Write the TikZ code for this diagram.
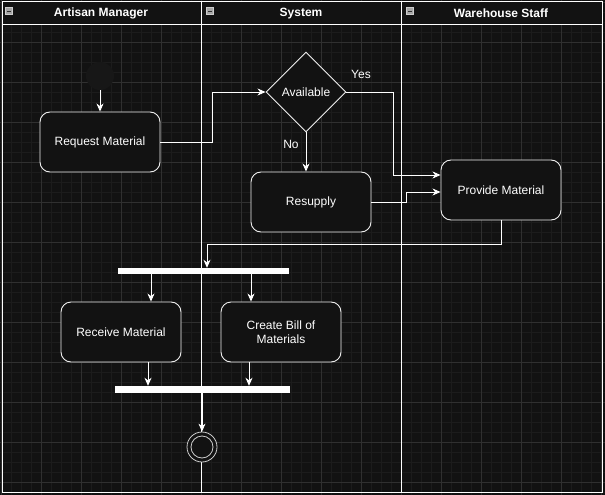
\documentclass[tikz,border=0pt]{standalone}
\usepackage{fontspec}
\setmainfont{Liberation Sans}
\usetikzlibrary{arrows.meta,shapes.geometric,positioning,calc}
\definecolor{bg}{HTML}{121212}
\definecolor{gridminor}{HTML}{1C1C1C}
\definecolor{gridmajor}{HTML}{303030}
\definecolor{strokec}{HTML}{F0F0F0}
\definecolor{initc}{HTML}{171717}
\tikzset{
  act/.style={draw=strokec, line width=0.9pt, fill=bg, rounded corners=10pt,
    minimum width=120pt, minimum height=60pt, inner sep=2pt, text=white,
    font=\fontsize{12pt}{14pt}\selectfont, align=center},
  dec/.style={diamond, draw=strokec, line width=0.9pt, fill=bg, minimum width=80pt,
    minimum height=80pt, inner sep=0pt, text=white, font=\fontsize{12pt}{14pt}\selectfont},
  bar/.style={rectangle, fill=white, draw=none, inner sep=0pt},
  arr/.style={draw=white, line width=0.9pt, -{Stealth[length=8pt,width=7pt,inset=2.5pt]}},
  lane/.style={draw=white, line width=1pt},
  hdr/.style={text=white, font=\bfseries\fontsize{12pt}{14pt}\selectfont},
  lbl/.style={text=white, font=\fontsize{12pt}{14pt}\selectfont},
  icon/.style={fill=gray!70!white, draw=gray!40!white, line width=0.5pt, minimum size=7pt, inner sep=0pt}
}
\begin{document}
\begin{tikzpicture}[x=1pt,y=-1pt]
\useasboundingbox (0,0) rectangle (605,495);
\fill[bg] (0,0) rectangle (605,495);
% grid
\foreach \x in {1,11,...,601} {\draw[gridminor, line width=0.5pt] (\x,0) -- (\x,495);}
\foreach \y in {2,12,...,492} {\draw[gridminor, line width=0.5pt] (0,\y) -- (605,\y);}
\foreach \x in {1,41,...,601} {\draw[gridmajor, line width=0.6pt] (\x,0) -- (\x,495);}
\foreach \y in {2,42,...,482} {\draw[gridmajor, line width=0.6pt] (0,\y) -- (605,\y);}
% header
\fill[bg] (2,2) rectangle (602,25);
\draw[lane] (2,2) rectangle (602,492);
\draw[lane] (2,25) -- (602,25);
\draw[lane] (201.5,2) -- (201.5,492);
\draw[lane] (401.5,2) -- (401.5,492);
\node[hdr] (h1) at (101,13.5) {Artisan Manager};
\node[hdr] (h2) at (301,13.5) {System};
\node[hdr] (h3) at (501,13.5) {Warehouse Staff};
\foreach \ix/\nm in {9/i1,210/i2,410/i3} {
  \node[icon] (\nm) at (\ix,11) {};
  \draw[black!80, line width=0.8pt] ([xshift=-2pt]\nm.center) -- ([xshift=2pt]\nm.center);
}
% nodes
\node[circle, fill=initc, draw=none, minimum size=28pt, inner sep=0pt] (init) at (100,76) {};
\node[act] (req) at (100,142) {Request Material};
\node[dec] (avail) at (306,92) {Available};
\node[act] (res) at (311,202) {Resupply};
\node[act] (prov) at (501,190) {Provide Material};
\node[bar, minimum width=171pt, minimum height=6pt] (fork) at (203.5,271) {};
\node[act] (rec) at (121,332) {Receive Material};
\node[act] (bill) at (281,332) {Create Bill of\\Materials};
\node[bar, minimum width=175pt, minimum height=7pt] (join) at (202,389.5) {};
\node[circle, draw=strokec!85!black, fill=bg, line width=0.8pt, minimum size=30pt, inner sep=0pt] (fin) at (202,447) {};
\draw[strokec!85!black, line width=0.8pt] (fin.center) circle[radius=11];
% labels
\node[lbl] (yes) at (361,74) {Yes};
\node[lbl] (no) at (291,144) {No};
% connectors
\draw[arr] (init.south) -- (init.south |- req.north);
\draw[arr] (req.east) -- ++(52,0) |- (avail.west);
\draw[arr] (avail.east) -- ++(47,0) |- ([yshift=15pt]prov.west);
\draw[arr] (avail.south) -- (avail.south |- res.north);
\draw[arr] (res.east) -- ++(35,0) |- ([yshift=-2pt]prov.west);
\draw[arr] (prov.south) -- ++(0,24) -| ([xshift=3.5pt]fork.north);
\draw[arr] ([xshift=-52.5pt]fork.south) -- ([xshift=-52.5pt]fork.south |- rec.north);
\draw[arr] ([xshift=47.5pt]fork.south) -- ([xshift=47.5pt]fork.south |- bill.north);
\draw[arr] ([xshift=27pt]rec.south) -- ([xshift=27pt]rec.south |- join.north);
\draw[arr] ([xshift=-32pt]bill.south) -- ([xshift=-32pt]bill.south |- join.north);
\draw[arr] (join.south) -- (fin.north);
\end{tikzpicture}
\end{document}
